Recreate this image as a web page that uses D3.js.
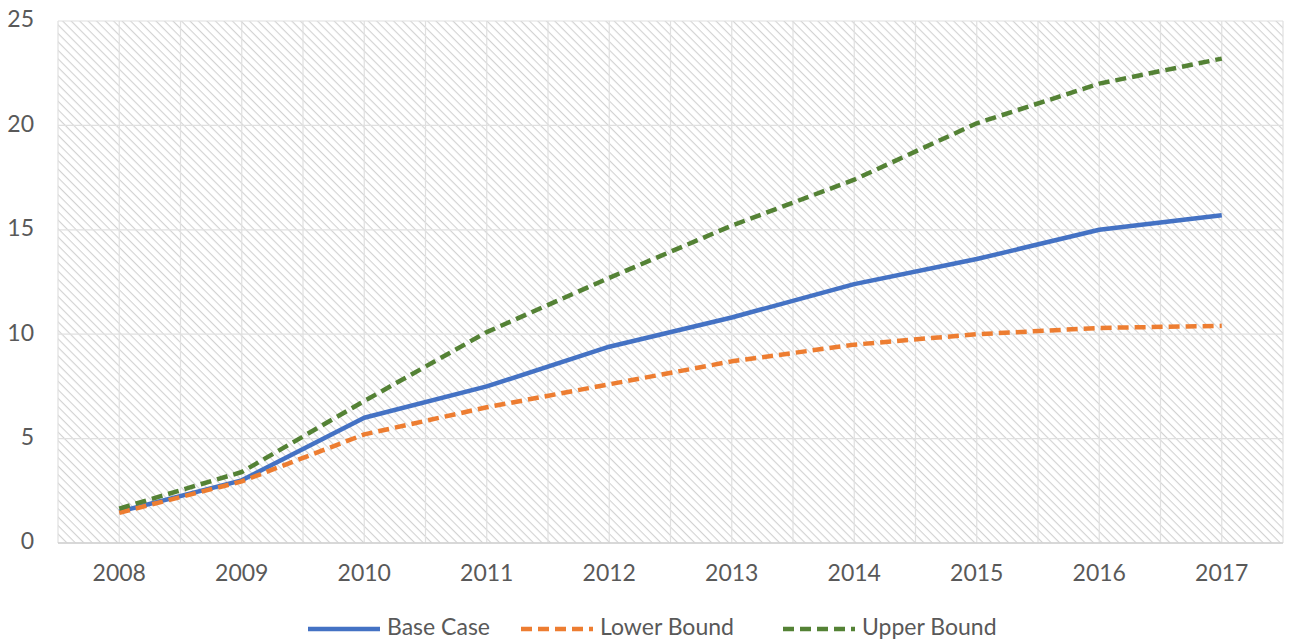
<!DOCTYPE html>
<html><head><meta charset="utf-8">
<script src="https://cdn.jsdelivr.net/npm/d3@7"></script>
<style>body{margin:0;background:#fff;}svg{display:block;}</style>
</head><body><svg id="c" width="1289" height="642"></svg>
<script>
const years = ["2008","2009","2010","2011","2012","2013","2014","2015","2016","2017"];
const baseCase = [1.5,3.0,6.0,7.5,9.4,10.8,12.4,13.6,15.0,15.7];
const lowerBound = [1.45,2.95,5.2,6.5,7.6,8.7,9.5,10.0,10.3,10.4];
const upperBound = [1.65,3.4,6.8,10.1,12.7,15.2,17.4,20.1,22.0,23.2];
const yTicks = [0,5,10,15,20,25];
const seriesNames = ["Base Case","Lower Bound","Upper Bound"];
const colors = ["#4472C4","#ED7D31","#548235"];
const dashes = [null,"11,6","11,6"];

const svg = d3.select("#c");
const font = "Lato, 'Open Sans', sans-serif";
const L=58, R=1283, T=21, B=543;
const x = d3.scaleBand().domain(years).range([L,R]);
const y = d3.scaleLinear().domain([0,25]).range([B,T]);

const defs = svg.append("defs");
const pat = defs.append("pattern").attr("id","hatch").attr("patternUnits","userSpaceOnUse")
  .attr("width",6).attr("height",6).attr("patternTransform","rotate(45)");
pat.append("rect").attr("width",6).attr("height",6).attr("fill","#fff");
pat.append("line").attr("x1",0).attr("y1",0).attr("x2",6).attr("y2",0)
  .attr("stroke","#d2d2d2").attr("stroke-width",2.2);
svg.append("rect").attr("x",L).attr("y",T).attr("width",R-L).attr("height",B-T).attr("fill","url(#hatch)");

// gridlines
const g = svg.append("g");
g.selectAll("line.h").data(yTicks).join("line").attr("class","h")
  .attr("x1",L).attr("x2",R).attr("y1",d=>y(d)).attr("y2",d=>y(d))
  .attr("stroke","#e0e0e0").attr("stroke-width",1.2);
const vpos = [];
years.forEach(yr=>{vpos.push(x(yr)); vpos.push(x(yr)+x.bandwidth()/2);});
vpos.push(R);
g.selectAll("line.v").data(vpos).join("line").attr("class","v")
  .attr("x1",d=>d).attr("x2",d=>d).attr("y1",T).attr("y2",B)
  .attr("stroke","#e0e0e0").attr("stroke-width",1.2);
svg.append("line").attr("x1",L).attr("x2",R).attr("y1",B).attr("y2",B).attr("stroke","#d0d0d0").attr("stroke-width",1.5);

// axes labels
const yAxis = d3.axisLeft(y).tickValues(yTicks).tickSize(0).tickPadding(0);
const ya = svg.append("g").attr("transform",`translate(34,0)`).call(yAxis);
ya.select(".domain").remove();
ya.selectAll("text").attr("font-family",font).attr("font-size",23).attr("fill","#595959").attr("dy","0.0em").attr("dominant-baseline","middle");

const xAxis = d3.axisBottom(x).tickSize(0).tickPadding(0);
const xa = svg.append("g").attr("transform",`translate(0,${B+22})`).call(xAxis);
xa.select(".domain").remove();
xa.selectAll("text").attr("font-family",font).attr("font-size",23).attr("fill","#595959");

// lines
const data = [baseCase,lowerBound,upperBound];
const line = d3.line().x((d,i)=>x(years[i])+x.bandwidth()/2).y(d=>y(d));
data.forEach((s,i)=>{
  svg.append("path").attr("d",line(s)).attr("fill","none")
    .attr("stroke",colors[i]).attr("stroke-width",4.5)
    .attr("stroke-dasharray",dashes[i]).attr("stroke-linejoin","round");
});

// legend
const lx = [308,521,783];
seriesNames.forEach((n,i)=>{
  svg.append("line").attr("x1",lx[i]).attr("x2",lx[i]+72).attr("y1",629).attr("y2",629)
    .attr("stroke",colors[i]).attr("stroke-width",4.5).attr("stroke-dasharray",dashes[i]);
  svg.append("text").attr("x",lx[i]+79).attr("y",629).attr("dominant-baseline","middle")
    .attr("font-family",font).attr("font-size",23).attr("fill","#595959").text(n);
});
</script></body></html>
